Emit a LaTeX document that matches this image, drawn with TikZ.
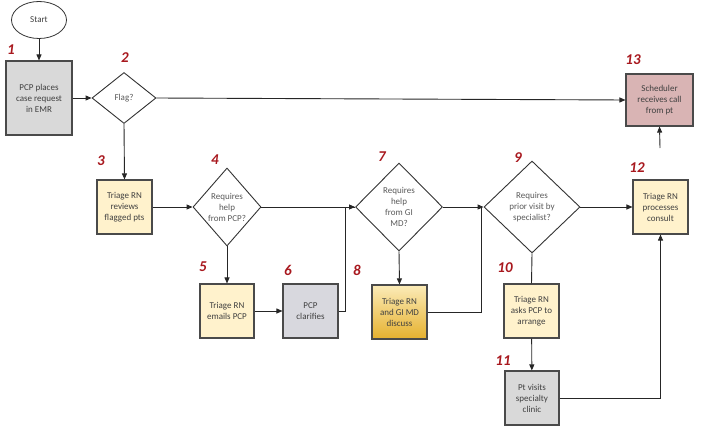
\documentclass[tikz,border=0pt]{standalone}
\usepackage{fontspec}
\setmainfont{Carlito}
\usetikzlibrary{shapes.geometric,arrows.meta,calc}
\definecolor{greyfill}{HTML}{D9D9D9}
\definecolor{lavfill}{HTML}{D8D8DE}
\definecolor{yelfill}{HTML}{FFF2CC}
\definecolor{pinkfill}{HTML}{D9B4B4}
\definecolor{goldtop}{HTML}{FBEBB8}
\definecolor{goldmid}{HTML}{F4D27A}
\definecolor{goldbot}{HTML}{E6B12E}
\definecolor{boxline}{HTML}{4A4A4A}
\definecolor{numred}{HTML}{A8181E}
\definecolor{txtgrey}{HTML}{404040}
\definecolor{diatxt}{HTML}{5A5A5A}
\begin{document}
\begin{tikzpicture}[x=1pt,y=-1pt,
  box/.style={draw=boxline,line width=1.1pt,minimum width=55pt,minimum height=54pt,
    inner sep=1pt,align=center,text=txtgrey,font=\fontsize{9}{11}\selectfont},
  dia/.style={diamond,draw=black!80,line width=0.9pt,inner sep=0pt,fill=white},
  dtext/.style={align=center,text=diatxt,font=\fontsize{9}{11}\selectfont},
  num/.style={text=numred,font=\fontsize{15}{15}\selectfont\bfseries\itshape},
  conn/.style={draw=black!85,line width=0.9pt},
  arr/.style={conn,-{Triangle[length=6pt,width=5pt]}}]
\useasboundingbox (0,0) rectangle (708,433);
% nodes
\node[ellipse,draw=black!80,line width=0.8pt,minimum width=55pt,minimum height=37pt,
  font=\fontsize{9}{11}\selectfont,text=txtgrey] (start) at (39,20) {Start};
\node[box,fill=greyfill,minimum width=66pt,minimum height=74pt] (b1) at (39,98) {PCP places\\case request\\in EMR};
\node[dia,minimum width=64pt,minimum height=51pt,label={[dtext]center:Flag?}] (d2) at (124,98) {};
\node[box,fill=pinkfill,minimum width=67pt,minimum height=52pt] (b13) at (659.5,100) {Scheduler\\receives call\\from pt};
\node[box,fill=yelfill] (b3) at (124.5,207) {Triage RN\\reviews\\flagged pts};
\node[dia,minimum width=68pt,minimum height=78pt,label={[dtext]center:Requires\\help\\from PCP?}] (d4) at (227,207) {};
\node[box,fill=yelfill,minimum width=54pt] (b5) at (227,311) {Triage RN\\emails PCP};
\node[box,fill=lavfill] (b6) at (310.5,311) {PCP\\clarifies};
\node[dia,minimum width=87pt,minimum height=88pt,label={[dtext]center:Requires\\help\\from GI\\MD?}] (d7) at (399,207) {};
\node[box,top color=goldtop,middle color=goldmid,bottom color=goldbot] (b8) at (399.5,312) {Triage RN\\and GI MD\\discuss};
\node[dia,minimum width=96pt,minimum height=92pt,label={[dtext]center:Requires\\prior visit by\\specialist?}] (d9) at (532,207) {};
\node[box,fill=yelfill] (b12) at (660.5,207) {Triage RN\\processes\\consult};
\node[box,fill=yelfill] (b10) at (531.5,311) {Triage RN\\asks PCP to\\arrange};
\node[box,fill=greyfill,minimum width=54pt] (b11) at (532,398) {Pt visits\\specialty\\clinic};
\coordinate (s13) at (660,148);
% numbers
\node[num] (n1) at (11,50) {1};
\node[num] (n2) at (125,58) {2};
\node[num] (n3) at (101,161) {3};
\node[num] (n4) at (215,160) {4};
\node[num] (n5) at (203,267) {5};
\node[num] (n6) at (288,270) {6};
\node[num] (n7) at (382,157) {7};
\node[num] (n8) at (357,270) {8};
\node[num] (n9) at (518,158) {9};
\node[num] (n10) at (505,268) {10};
\node[num] (n11) at (503,361) {11};
\node[num] (n12) at (637,168) {12};
\node[num] (n13) at (633,60) {13};
% connectors
\draw[arr] (start) -- (b1);
\draw[arr] (b1) -- (d2);
\draw[arr] (d2.east) -- (b13.west);
\draw[arr] (d2.south) -- (b3.north);
\draw[arr] (b3) -- (d4);
\draw[arr] (d4.east) -- (d7.west);
\draw[arr] (d4.south) -- (b5.north);
\draw[arr] (b5) -- (b6);
\draw[conn] (b6.east) -- ++(7,0) |- (d7.west);
\draw[arr] (d7.south) -- (b8.north);
\draw[arr] (d7.east) -- (d9.west);
\draw[conn] (b8.east) -| ([xshift=-2pt]d9.west);
\draw[arr] (d9.east) -- (b12.west);
\draw[conn] (d9.south) -- (b10.north);
\draw[arr] (b10) -- (b11);
\draw[arr] (b11.east) -| (b12.south);
\draw[arr] (s13) -- (b13.south);
\end{tikzpicture}
\end{document}
